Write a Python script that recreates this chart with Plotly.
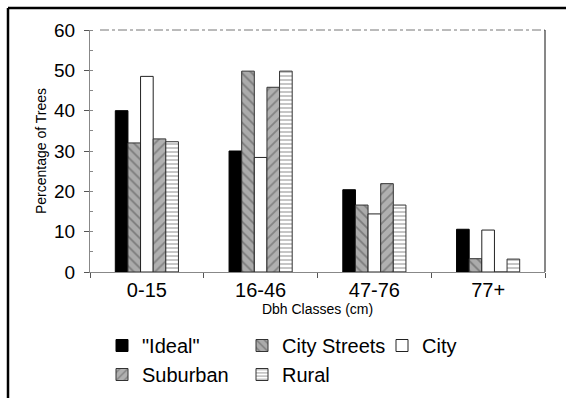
import plotly.graph_objects as go

categories = ["0-15", "16-46", "47-76", "77+"]
ideal = [40, 30, 20.4, 10.6]
city_streets = [32, 49.8, 16.6, 3.3]
city = [48.5, 28.4, 14.4, 10.4]
suburban = [33, 45.8, 21.9, 0]
rural = [32.3, 49.8, 16.6, 3.2]
y_ticks = [0, 10, 20, 30, 40, 50, 60]

FONT = "Liberation Sans, Arial, sans-serif"

fig = go.Figure()
fig.add_bar(name='"Ideal"', x=categories, y=ideal,
            marker=dict(color="#000000", line=dict(color="#000000", width=1)))
fig.add_bar(name="City Streets", x=categories, y=city_streets,
            marker=dict(color="#a9a9a9", line=dict(color="#333333", width=1),
                        pattern=dict(shape="\\", fgcolor="#4a4a4a", bgcolor="#ababab",
                                     size=7, solidity=0.25, fillmode="overlay")))
fig.add_bar(name="City", x=categories, y=city,
            marker=dict(color="#ffffff", line=dict(color="#222222", width=1)))
fig.add_bar(name="Suburban", x=categories, y=suburban,
            marker=dict(color="#a9a9a9", line=dict(color="#333333", width=1),
                        pattern=dict(shape="/", fgcolor="#555555", bgcolor="#b0b0b0",
                                     size=7, solidity=0.25, fillmode="overlay")))
fig.add_bar(name="Rural", x=categories, y=rural,
            marker=dict(color="#ffffff", line=dict(color="#333333", width=1),
                        pattern=dict(shape="-", fgcolor="#808080", bgcolor="#ffffff",
                                     size=4, solidity=0.45, fillmode="overlay")))

# plot area: x 90..545, y 30..272
L, R, T, B = 90, 545, 30, 272
W, H = R - L, B - T
def px(x):
    return (x - L) / W
def py(y):
    return (B - y) / H

shapes = [
    dict(type="line", xref="paper", yref="paper", x0=px(100), x1=1, y0=1, y1=1,
         line=dict(color="#777777", width=1, dash="dashdot")),
    dict(type="line", xref="paper", yref="paper", x0=1, x1=1, y0=0, y1=1,
         line=dict(color="#111111", width=1)),
    dict(type="line", xref="paper", yref="paper", x0=px(8), x1=px(566), y0=py(8), y1=py(8),
         line=dict(color="#000000", width=2.5)),
    dict(type="line", xref="paper", yref="paper", x0=px(8), x1=px(8), y0=py(8), y1=py(398),
         line=dict(color="#000000", width=2.5)),
]

fig.update_layout(
    width=566, height=398,
    margin=dict(l=L, r=566 - R, t=T, b=398 - B, autoexpand=False),
    paper_bgcolor="white", plot_bgcolor="white",
    barmode="group", bargap=0.445, bargroupgap=0,
    font=dict(family=FONT, color="#000000"),
    shapes=shapes,
    showlegend=True,
    legend=dict(orientation="h", x=px(102), xanchor="left", y=py(326), yanchor="top",
                font=dict(size=20, family=FONT), entrywidth=95, entrywidthmode="pixels",
                traceorder="normal", bgcolor="rgba(0,0,0,0)", itemclick=False),
    xaxis=dict(
        showgrid=False, showline=True, linecolor="#888888", linewidth=1,
        ticks="outside", tickson="boundaries", ticklen=5, tickcolor="#555555",
        tickfont=dict(size=20, family=FONT),
        title=dict(text="Dbh Classes (cm)", font=dict(size=14, family=FONT), standoff=0),
    ),
    yaxis=dict(
        range=[0, 60], tickvals=y_ticks, showgrid=False, zeroline=False,
        showline=True, linecolor="#888888", linewidth=1,
        ticks="outside", ticklen=5, tickcolor="#555555", ticklabelstandoff=5,
        minor=dict(dtick=5, ticks="inside", ticklen=3, tickcolor="#888888"),
        tickfont=dict(size=19, family=FONT),
        title=dict(text="Percentage of Trees", font=dict(size=14, family=FONT), standoff=4),
    ),
)

fig.write_html("out.html", config={"displayModeBar": False},
               post_script="document.body.style.margin='0';")
